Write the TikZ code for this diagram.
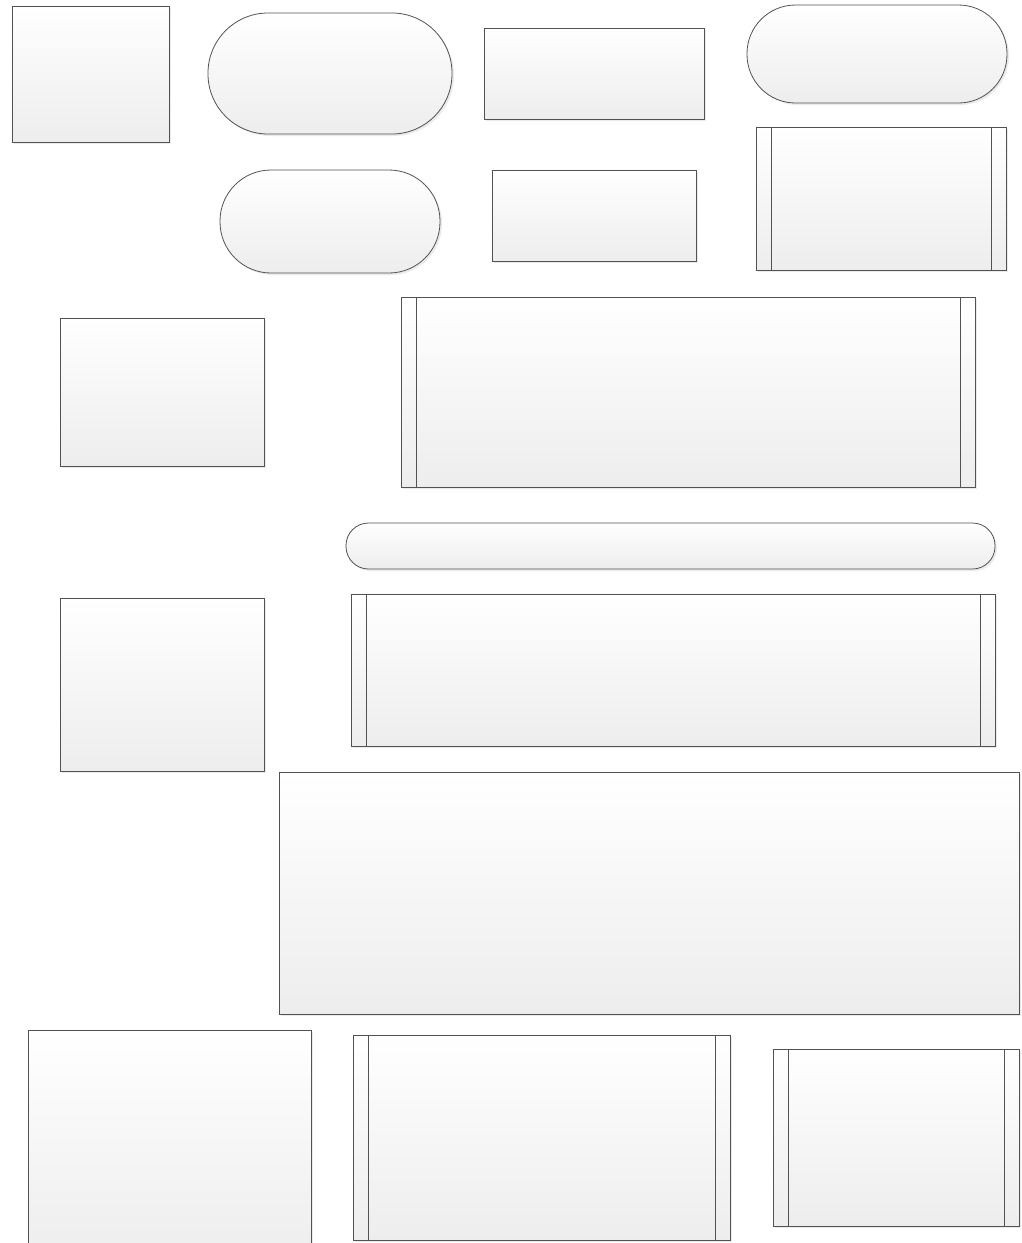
\documentclass[tikz,border=0pt]{standalone}
\usetikzlibrary{shadows}
\tikzset{
  shp/.style={draw=black!68, line width=0.8pt, top color=white, bottom color=black!7,
    inner sep=0pt, outer sep=0pt,
    drop shadow={shadow xshift=2pt, shadow yshift=-2pt, fill=black!8, opacity=1}},
  sz/.style 2 args={minimum width=#1pt, minimum height=#2pt},
  pline/.style={draw=black!68, line width=0.8pt}
}
\begin{document}
\begin{tikzpicture}[x=1pt,y=-1pt]
\clip (0,0) rectangle (1022,1243);
\useasboundingbox (0,0) rectangle (1022,1243);
% row 1
\node[shp, sz={157}{136}] (r1) at (90.5,74) {};
\node[shp, sz={244}{121}, rounded corners=60pt] (s1) at (330,73.5) {};
\node[shp, sz={220}{91}] (r2) at (594,73.5) {};
\node[shp, sz={260}{98}, rounded corners=48.5pt] (s2) at (877,54) {};
% row 2
\node[shp, sz={220}{103}, rounded corners=51pt] (s3) at (330,221.5) {};
\node[shp, sz={204}{91}] (r3) at (594,215.5) {};
\node[shp, sz={250}{143}] (p1) at (881,198.5) {};
% row 3
\node[shp, sz={204}{148}] (r4) at (162,392) {};
\node[shp, sz={574}{190}] (p2) at (688,392) {};
% row 4
\node[shp, sz={649}{46}, rounded corners=22.5pt] (s4) at (670.5,546) {};
\node[shp, sz={204}{173}] (r5) at (162,684.5) {};
\node[shp, sz={644}{152}] (p3) at (673,670) {};
% row 5
\node[shp, sz={740}{242}] (r6) at (649,893) {};
% row 6 (left box runs past the lower edge)
\node[shp, sz={283}{230}] (r7) at (169.5,1145) {};
\node[shp, sz={377}{205}] (p4) at (541.5,1137.5) {};
\node[shp, sz={246}{177}] (p5) at (896,1137.5) {};
% process side bars
\foreach \n in {p1,p2,p3,p4,p5}{
  \draw[pline] ([xshift=15pt]\n.north west) -- ([xshift=15pt]\n.south west);
  \draw[pline] ([xshift=-15pt]\n.north east) -- ([xshift=-15pt]\n.south east);
}
\end{tikzpicture}
\end{document}
